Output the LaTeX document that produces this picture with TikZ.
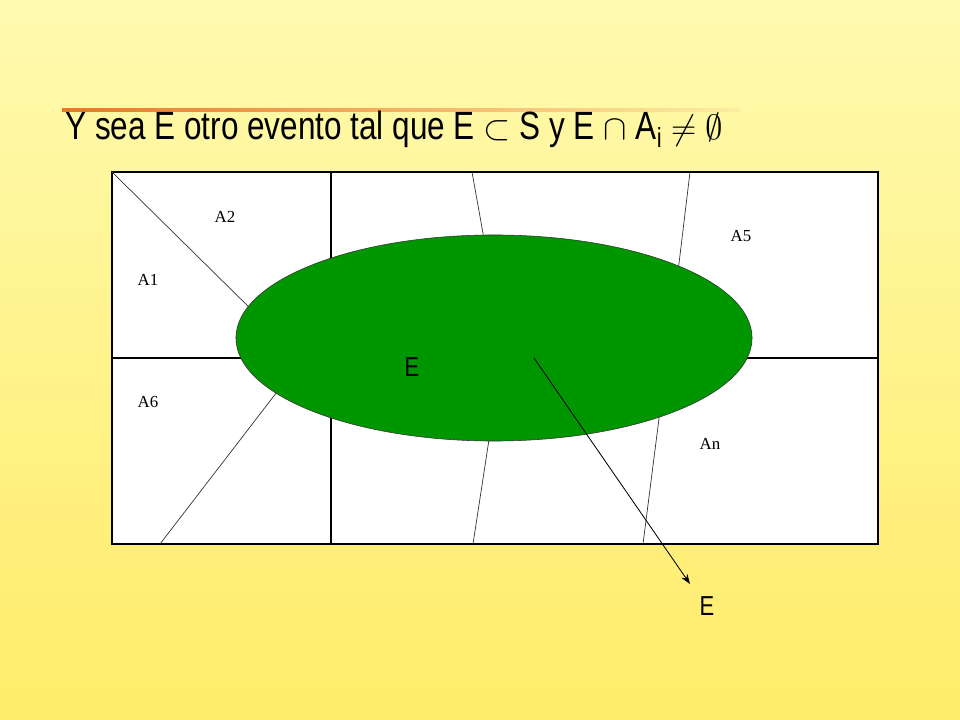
\documentclass[tikz,border=0pt]{standalone}
\usepackage{fontspec}
\setmainfont{Liberation Serif}
\newfontfamily\titlefont[FakeStretch=0.8]{Liberation Sans}
\usetikzlibrary{shapes.geometric,arrows.meta}
\definecolor{fondo}{RGB}{255,236,105}
\definecolor{fondoclaro}{RGB}{255,250,175}
\definecolor{verde}{RGB}{0,150,0}
\definecolor{naranja}{RGB}{232,120,40}
\tikzset{
  region/.style={font=\fontsize{12}{14}\selectfont},
  particion/.style={draw=black!80,line width=0.5pt},
  letraE/.style={font=\titlefont\fontsize{19.5}{21}\selectfont},
}
\begin{document}
\begin{tikzpicture}[x=0.025cm,y=-0.025cm]

% fondo
\shade[top color=fondoclaro,bottom color=fondo] (0,0) rectangle (960,720);
\useasboundingbox (0,0) rectangle (960,720);
\shade[left color=naranja,right color=naranja!10!fondoclaro] (62,109) rectangle (740,111.5);

% titulo
\node[anchor=base west,inner sep=0,font=\titlefont\fontsize{28}{30}\selectfont] (titulo) at (65,140)
  {Y sea E otro evento tal que E $\subset$ S y E $\cap$ A\textsubscript{i} $\neq$ $\emptyset$};

% espacio muestral S
\draw[fill=white,line width=0.8pt] (112,172) rectangle (878,544);
\draw[line width=0.8pt] (112,358) -- (878,358);
\draw[line width=0.8pt] (331,172) -- (331,544);

% particiones
\draw[particion] (112,172) -- (260,318);
\draw[particion] (472,172) -- (486,250);
\draw[particion] (690,172) -- (677,280);
\draw[particion] (290,375) -- (160,544);
\draw[particion] (492,420) -- (473,544);
\draw[particion] (662,395) -- (643,544);

% evento E
\node[ellipse,draw=black!80,fill=verde,inner sep=0,
      minimum width=12.9cm,minimum height=5.15cm] (elipse) at (494,338) {};
\node[letraE] (etiquetaE) at (412,367) {E};

% nombres de las regiones
\foreach \x/\y/\nombre in {225/217/A2, 148/280/A1, 741/236/A5, 148/402/A6, 710/444/An}{
  \node[region] (\nombre) at (\x,\y) {\nombre};
}

% flecha
\coordinate (origen) at (534,358);
\coordinate (punta) at (690,584);
\draw[-{Stealth[length=7pt,width=5pt]},line width=0.6pt] (origen) -- (punta);
\node[letraE] (fuera) at (707,606) {E};

\end{tikzpicture}
\end{document}
